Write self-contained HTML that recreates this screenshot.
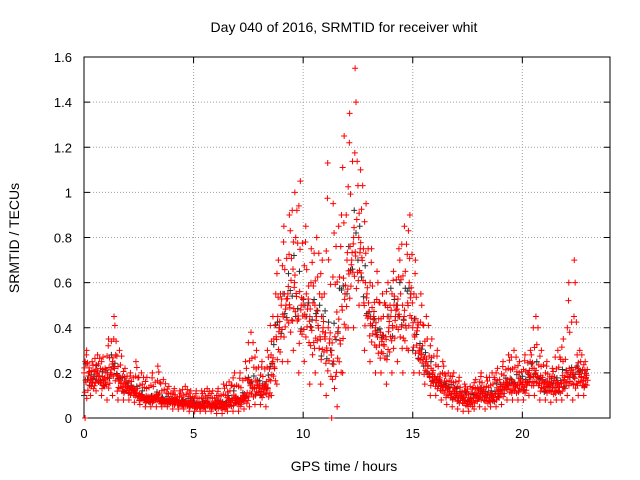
<!DOCTYPE html>
<html><head><meta charset="utf-8"><style>
body{margin:0;background:#fff;}
svg{display:block;font-family:"Liberation Sans",sans-serif;}
</style></head><body>
<svg id="chart" width="640" height="480" xmlns="http://www.w3.org/2000/svg">
<rect width="640" height="480" fill="#fff"/>
<text x="344" y="32" font-size="14" text-anchor="middle">Day 040 of 2016, SRMTID for receiver whit</text>
<g id="grid"></g>
<g id="axes"></g>
<g id="marks"></g>
<text x="344" y="471" font-size="14" text-anchor="middle">GPS time / hours</text>
<text transform="translate(19,238) rotate(-90)" font-size="14" text-anchor="middle">SRMTID / TECUs</text>
</svg>
<script>
const xTicks=[0,5,10,15,20];
const yTicks=[0,0.2,0.4,0.6,0.8,1,1.2,1.4,1.6];
const yTickLabels=["0","0.2","0.4","0.6","0.8","1","1.2","1.4","1.6"];
const times=[0,0.25,0.5,0.75,1,1.25,1.5,1.75,2,2.25,2.5,2.75,3,3.25,3.5,3.75,4,4.25,4.5,4.75,5,5.25,5.5,5.75,6,6.25,6.5,6.75,7,7.25,7.5,7.75,8,8.25,8.5,8.75,9,9.25,9.5,9.75,10,10.25,10.5,10.75,11,11.25,11.5,11.75,12,12.25,12.5,12.75,13,13.25,13.5,13.75,14,14.25,14.5,14.75,15,15.25,15.5,15.75,16,16.25,16.5,16.75,17,17.25,17.5,17.75,18,18.25,18.5,18.75,19,19.25,19.5,19.75,20,20.25,20.5,20.75,21,21.25,21.5,21.75,22,22.25,22.5,22.75];
const lowVals=[0,.1,.12,.1,.08,.1,.08,.08,.08,.07,.06,.05,.05,.05,.05,.05,.04,.04,.04,.03,.03,.03,.03,.03,.02,.02,.03,.03,.03,.04,.05,.06,.06,.05,.1,.15,.25,.25,.3,.2,.25,.15,.2,.15,.1,0,.05,.2,.4,.4,.5,.3,.25,.2,.2,.15,.2,.25,.2,.3,.2,.2,.15,.1,.1,.08,.06,.05,.04,.03,.03,.04,.05,.04,.05,.05,.06,.08,.08,.08,.08,.1,.1,.08,.08,.07,.08,.08,.1,.08,.1,.1];
const midVals=[.2,.17,.2,.17,.2,.25,.17,.15,.13,.12,.1,.09,.09,.1,.08,.08,.08,.07,.07,.07,.06,.06,.07,.06,.07,.06,.08,.09,.08,.1,.15,.15,.13,.15,.25,.4,.5,.55,.6,.5,.5,.45,.45,.4,.35,.3,.4,.55,.7,.8,.75,.55,.45,.4,.35,.4,.45,.5,.45,.55,.4,.3,.25,.2,.17,.15,.13,.12,.1,.09,.08,.1,.12,.1,.1,.12,.14,.16,.15,.16,.15,.2,.2,.17,.15,.15,.15,.17,.2,.2,.2,.18];
const highVals=[.3,.25,.28,.27,.35,.45,.3,.22,.2,.25,.2,.18,.2,.23,.17,.14,.13,.12,.14,.12,.12,.12,.13,.12,.13,.15,.16,.2,.2,.25,.38,.3,.25,.3,.45,.7,.85,.9,1.0,1.05,.85,.75,.8,.7,1.13,.95,.85,1.25,1.35,1.55,1.1,.95,.75,.65,.55,.6,.65,.75,.85,.9,.7,.55,.45,.35,.3,.25,.2,.2,.18,.15,.14,.17,.2,.18,.2,.22,.25,.28,.3,.25,.28,.3,.45,.3,.25,.22,.3,.35,.6,.7,.3,.25];
const X0=84,X1=610,Y0=418,Y1=57,XMAX=24,YMAX=1.6;
const xs=v=>X0+(X1-X0)*v/XMAX, ys=v=>Y0-(Y0-Y1)*v/YMAX;
const NS="http://www.w3.org/2000/svg";
function mk(tag,attrs,parent){const e=document.createElementNS(NS,tag);for(const k in attrs)e.setAttribute(k,attrs[k]);parent.appendChild(e);return e;}
const grid=document.getElementById('grid'),axes=document.getElementById('axes'),marks=document.getElementById('marks');
xTicks.forEach((t,i)=>{const x=xs(t);
 const g=mk('line',{x1:x,x2:x,y1:Y0,y2:Y1,stroke:'#a0a0a0','stroke-dasharray':'1,2','stroke-width':1},grid);
 
 const tk=mk('path',{d:`M${x},${Y0}v-6M${x},${Y1}v6`,stroke:'#000'},axes);
 
 const l=mk('text',{x:x,y:Y0+20,'font-size':13,'text-anchor':'middle'},axes);l.textContent=String(t);
 });
yTicks.forEach((t,i)=>{const y=ys(t);
 const g=mk('line',{x1:X0,x2:X1,y1:y,y2:y,stroke:'#a0a0a0','stroke-dasharray':'1,2','stroke-width':1},grid);
 
 const tk=mk('path',{d:`M${X0},${y}h6M${X1},${y}h-6`,stroke:'#000'},axes);
 
 const l=mk('text',{x:X0-12,y:y+5,'font-size':13,'text-anchor':'end'},axes);l.textContent=yTickLabels[i];
 });
const frame=mk('rect',{x:X0,y:Y1,width:X1-X0,height:Y0-Y1,fill:'none',stroke:'#000'},axes);

function plus(x,y,c){const p=mk('path',{d:`M${x-3},${y}h6M${x},${y-3}v6`,stroke:c,'stroke-width':1},marks);
 }
const fr=[0,.15,.3,.45,.6,.7,.8,.9,1,.5,.35,.55];
times.forEach((t,i)=>{const lo=lowVals[i],md=midVals[i],hi=highVals[i];
 for(let k=0;k<3;k++){const f=fr[(k*5+i)%fr.length];plus(xs(t+k*0.08),ys(Math.min(hi,lo+(md-lo)*(0.5+f))),'#303030');}});
times.forEach((t,i)=>{const lo=lowVals[i],md=midVals[i],hi=highVals[i];
 for(let k=0;k<14;k++){const f=fr[(k*7+i*3)%fr.length];const dx=(k/14)*0.25;
  const v=k%3===0?md+(hi-md)*f:lo+(md-lo)*(0.3+f*0.9);
  plus(xs(t+dx),ys(Math.min(v,hi)),'#ff0000');}
 plus(xs(t+0.12),ys(hi),'#ff0000');plus(xs(t+0.05),ys(lo),'#ff0000');});
</script>
</body></html>
